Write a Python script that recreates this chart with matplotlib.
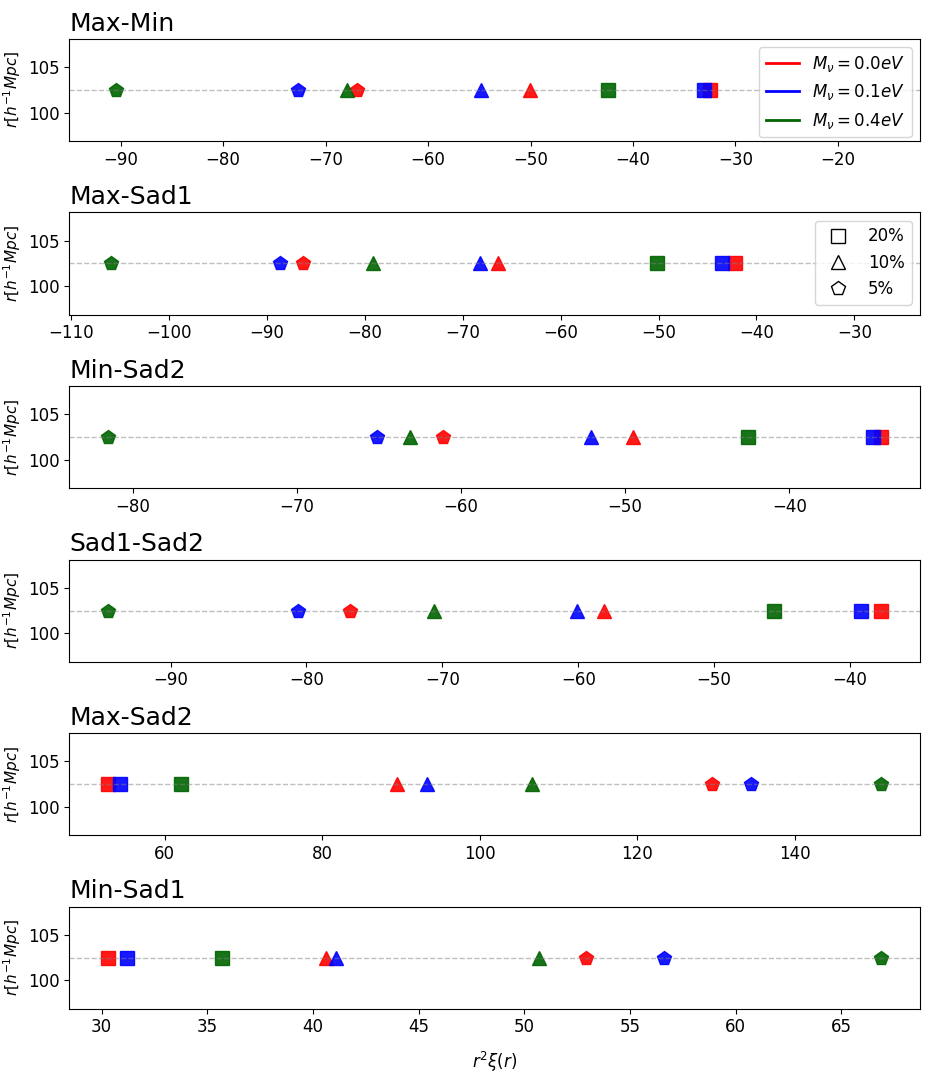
import matplotlib.pyplot as plt
from matplotlib.lines import Line2D

panels = ['Max-Min', 'Max-Sad1', 'Min-Sad2', 'Sad1-Sad2', 'Max-Sad2', 'Min-Sad1']
masses = ['0.0', '0.1', '0.4']
colors = ['red', 'blue', 'darkgreen']
fractions = ['20%', '10%', '5%']
markers = ['s', '^', 'p']

# r^2 xi(r) at the peak, per panel: [mass][fraction 20%, 10%, 5%]
vals_maxmin = [[-32.5, -50.1, -66.9], [-33.1, -54.8, -72.7], [-42.4, -67.9, -90.5]]
vals_maxsad1 = [[-42.2, -66.4, -86.3], [-43.5, -68.3, -88.7], [-50.2, -79.2, -106.0]]
vals_minsad2 = [[-34.4, -49.5, -61.1], [-34.9, -52.1, -65.1], [-42.5, -63.1, -81.5]]
vals_sad1sad2 = [[-37.7, -58.1, -76.8], [-39.2, -60.1, -80.6], [-45.6, -70.6, -94.6]]
vals_maxsad2 = [[52.8, 89.5, 129.5], [54.3, 93.3, 134.4], [62.1, 106.6, 151.0]]
vals_minsad1 = [[30.3, 40.6, 52.9], [31.2, 41.1, 56.6], [35.7, 50.7, 66.9]]
all_vals = [vals_maxmin, vals_maxsad1, vals_minsad2, vals_sad1sad2, vals_maxsad2, vals_minsad1]

r_peak = 102.5
xlims = [(-95.0, -12.0), (-110.2, -23.3), None, None, None, None]

fig, axes = plt.subplots(6, 1, figsize=(9.33, 10.8))
plt.subplots_adjust(left=0.0744, right=0.986, top=0.964, bottom=0.066, hspace=0.7)

for k, ax in enumerate(axes):
    vals = all_vals[k]
    for i in range(3):
        for j in range(3):
            ax.plot(vals[i][j], r_peak, marker=markers[j], color=colors[i],
                    ms=10, alpha=0.9, ls='')
    ax.axhline(r_peak, color='gray', ls='--', lw=1, alpha=0.5)
    ax.set_ylim(96.9, 108.1)
    if xlims[k] is not None:
        ax.set_xlim(xlims[k])
    ax.set_yticks([100, 105])
    ax.tick_params(labelsize=12)
    ax.set_title(panels[k], loc='left', fontsize=18)
    ax.set_ylabel(r'$r[h^{-1}Mpc]$', fontsize=11)

mass_handles = [Line2D([], [], color=c, lw=2) for c in colors]
axes[0].legend(mass_handles, [r'$M_{\nu}=' + m + 'eV$' for m in masses],
               loc='upper right', fontsize=12)
frac_handles = [Line2D([], [], marker=m, ls='', mfc='none', mec='k', ms=10) for m in markers]
axes[1].legend(frac_handles, fractions, loc='upper right', fontsize=12)

axes[-1].set_xlabel(r'$r^2\xi(r)$', fontsize=12, labelpad=10)

plt.savefig('out.png', dpi=100)
